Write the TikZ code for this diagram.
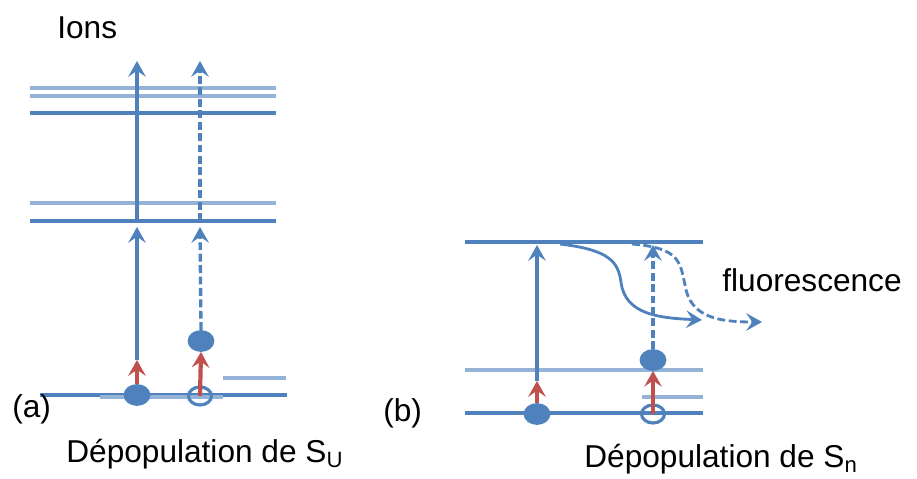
\documentclass[tikz,border=0pt]{standalone}
\usepackage{fontspec}
\setmainfont{Liberation Sans}
\usetikzlibrary{arrows.meta, shapes.geometric}
\definecolor{levelblue}{RGB}{79,129,189}
\definecolor{lightblue}{RGB}{149,179,215}
\definecolor{pumpred}{RGB}{192,80,77}

\begin{document}
\begin{tikzpicture}[>={Stealth[length=9pt, width=10pt, inset=3.5pt]}, x=0.02cm, y=-0.02cm,
    level/.style={levelblue, line width=2.8pt},
    sublevel/.style={lightblue, line width=2.2pt},
    electron/.style={ellipse, fill=levelblue, draw=levelblue, line width=1pt,
        minimum width=0.5cm, minimum height=0.4cm, inner sep=0pt},
    hole/.style={ellipse, draw=levelblue, line width=1.8pt,
        minimum width=0.46cm, minimum height=0.36cm, inner sep=0pt},
    probe/.style={->, levelblue, line width=1.9pt},
    pump/.style={->, pumpred, line width=2.4pt},
    dashprobe/.style={probe, dash pattern=on 4.5pt off 2pt},
    txt/.style={font=\fontsize{18}{21}\selectfont, inner sep=0pt, anchor=base west}]

    \useasboundingbox (0,0) rectangle (917,479);

    %levels of (a)
    \draw[sublevel] (30,88) -- (276,88);
    \draw[sublevel] (30,96) -- (276,96);
    \draw[level] (30,113) -- (276,113);
    \draw[sublevel] (30,203) -- (276,203);
    \draw[level] (30,221) -- (276,221);
    \draw[sublevel] (223,378) -- (286,378);
    \draw[level, line width=2.2pt] (40,395) -- (287,395);
    \draw[sublevel] (100,397) -- (223,397);

    %levels of (b)
    \draw[level, line width=2.4pt] (465,242) -- (703,242);
    \draw[sublevel] (465,370) -- (703,370);
    \draw[sublevel] (642,397) -- (703,397);
    \draw[level, line width=2.2pt] (465,413) -- (703,413);

    %electrons and holes
    \node[electron] (ea) at (137,395) {};
    \node[hole] (ha) at (200,396) {};
    \node[electron] (ea2) at (201,341) {};
    \node[electron] (eb) at (537,414) {};
    \node[hole] (hb) at (653,414) {};
    \node[electron] (eb2) at (653,360) {};

    %end points of the transitions
    \coordinate (pa) at (137,360);
    \coordinate (ma1) at (137,227);
    \coordinate (la1) at (137,221);
    \coordinate (ta1) at (137,61);
    \coordinate (ma2) at (200,227);
    \coordinate (la2) at (200,221);
    \coordinate (ta2) at (200,61);
    \coordinate (pb) at (537,381);
    \coordinate (tb1) at (537,245);
    \coordinate (tb2) at (653,245);
    \coordinate (fs) at (560,244);
    \coordinate (fe) at (702,320);
    \coordinate (gs) at (632,244);
    \coordinate (ge) at (762,322);

    %transitions of (a)
    \draw[pump] (ea.north) -- (pa);
    \draw[probe] (pa) -- (ma1);
    \draw[probe] (la1) -- (ta1);
    \draw[pump] (ha.center) -- (ea2.south);
    \draw[dashprobe] (ea2.north) -- (ma2);
    \draw[dashprobe] (la2) -- (ta2);

    %transitions of (b)
    \draw[pump] (eb.north) -- (pb);
    \draw[probe] (pb) -- (tb1);
    \draw[pump] (hb.center) -- (eb2.south);
    \draw[dashprobe, line width=2.6pt] (eb2.north) -- (tb2);
    \draw[probe, line width=1.6pt] (fs) .. controls (610,250) and (618,262) .. (621,282)
        .. controls (625,315) and (660,318) .. (fe);
    \draw[dashprobe, line width=1.6pt] (gs) .. controls (680,248) and (680,262) .. (685,285)
        .. controls (690,318) and (720,322) .. (ge);

    %texts
    \node[txt] (ions) at (57,39) {Ions};
    \node[txt] (tagA) at (12,418) {(a)};
    \node[txt] (tagB) at (383,422) {(b)};
    \node[txt] (fluo) at (722,292) {fluorescence};
    \node[txt] (depA) at (66,463) {Dépopulation de S\textsubscript{U}};
    \node[txt] (depB) at (584,468) {Dépopulation de S\textsubscript{n}};
\end{tikzpicture}
\end{document}
